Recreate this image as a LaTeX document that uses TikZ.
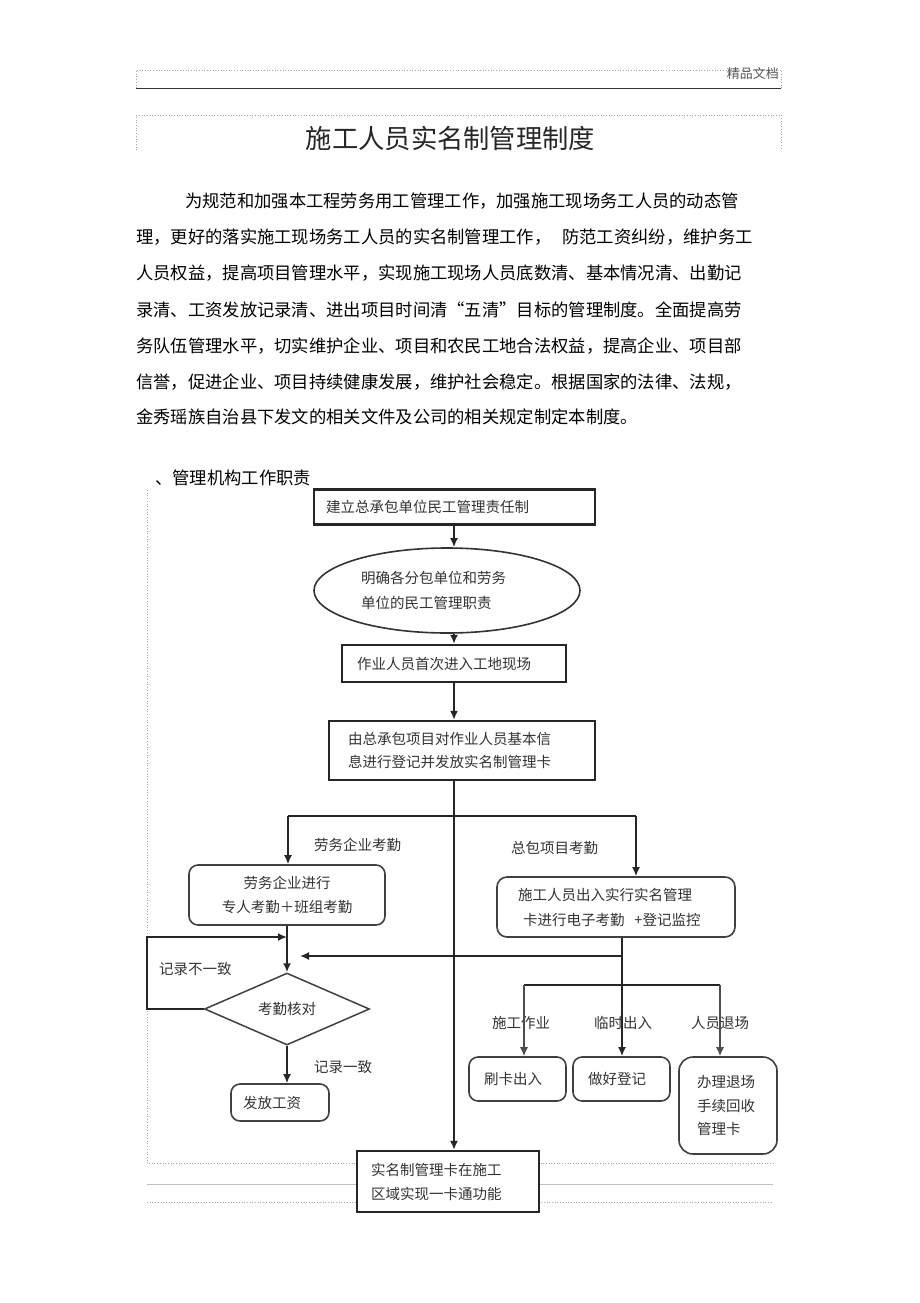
\documentclass[tikz,border=0pt]{standalone}
\usepackage{fontspec}
\setmainfont{Noto Sans CJK SC}
\usetikzlibrary{shapes.geometric,arrows.meta}
\begin{document}
\begin{tikzpicture}[x=1pt,y=-1pt,
  every node/.style={inner sep=0pt},
  ptxt/.style={anchor=west,font=\fontsize{17.3}{20}\selectfont,text=black},
  ftxt/.style={font=\fontsize{14.5}{23.5}\selectfont,text=black!80},
  lbl/.style={ftxt,anchor=west},
  hbox/.style={draw=black!85,line width=2.4pt,ftxt,align=left},
  rbox/.style={draw=black!75,line width=1.6pt,rounded corners=9pt,ftxt,align=left},
  conn/.style={draw=black!85,line width=1.7pt},
  arr/.style={conn,-{Latex[length=9pt,width=8pt]}},
  dots/.style={draw=black!35,dotted,line width=0.7pt},
]
\fill[white] (0,0) rectangle (920,1303);
\useasboundingbox (0,0) rectangle (920,1303);

% header
\draw[dots] (136,88) -- (136,70) -- (781,70) -- (781,88);
\draw[draw=black!80,line width=1.8pt] (136,88.5) -- (781,88.5);
\node[anchor=east,font=\fontsize{13}{15}\selectfont,text=black!65] (hdr) at (779,74) {精品文档};
\draw[dots] (136,150) -- (136,115) -- (781,115) -- (781,150);
\node[font=\fontsize{26.3}{30}\selectfont,text=black!85] (title) at (450.5,138) {施工人员实名制管理制度};

% paragraph
\node[ptxt] (p1) at (185,201) {为规范和加强本工程劳务用工管理工作，加强施工现场务工人员的动态管};
\node[ptxt] (p2) at (136,237) {理，更好的落实施工现场务工人员的实名制管理工作，\hspace{11pt}防范工资纠纷，维护务工};
\node[ptxt] (p3) at (136,273) {人员权益，提高项目管理水平，实现施工现场人员底数清、基本情况清、出勤记};
\node[ptxt] (p4) at (136,310) {录清、工资发放记录清、进出项目时间清“五清”目标的管理制度。全面提高劳};
\node[ptxt] (p5) at (136,346) {务队伍管理水平，切实维护企业、项目和农民工地合法权益，提高企业、项目部};
\node[ptxt] (p6) at (136,382) {信誉，促进企业、项目持续健康发展，维护社会稳定。根据国家的法律、法规，};
\node[ptxt] (p7) at (136,417) {金秀瑶族自治县下发文的相关文件及公司的相关规定制定本制度。};
\node[ptxt] (sec) at (155,478) {、管理机构工作职责};

% frame lines
\draw[dots] (147,490) -- (147,1163) -- (773,1163);
\draw[black!25,line width=0.6pt] (147,1184) -- (773,1184);
\draw[dots] (147,1202) -- (773,1202);

% nodes
\node[hbox,text width=257pt,inner xsep=12pt,minimum height=35pt] (b1) at (454.5,507) {建立总承包单位民工管理责任制};
\node[draw=black!80,line width=1.6pt,ellipse,minimum width=266pt,minimum height=85pt,text width=172pt,align=left,font=\fontsize{14.5}{25}\selectfont,text=black!80] (el) at (447,590.5) {明确各分包单位和劳务\\单位的民工管理职责};
\node[hbox,text width=194pt,inner xsep=15pt,minimum height=37pt] (b3) at (454,663.5) {作业人员首次进入工地现场};
\node[hbox,text width=228pt,inner xsep=19pt,minimum height=59pt] (b4) at (462,750.5) {由总承包项目对作业人员基本信\\息进行登记并发放实名制管理卡};
\node[rbox,align=center,minimum width=196pt,minimum height=60pt,font=\fontsize{14.5}{24}\selectfont] (b5) at (287,895) {劳务企业进行\\专人考勤＋班组考勤};
\node[rbox,rounded corners=10pt,text width=196pt,inner xsep=21pt,minimum height=60pt,font=\fontsize{14.5}{25}\selectfont] (b6) at (616,907) {施工人员出入实行实名管理\\\hspace{5pt}卡进行电子考勤\hspace{10pt}+登记监控};
\node[draw=black!75,line width=1.5pt,diamond,minimum width=165pt,minimum height=72pt,ftxt] (dia) at (287,1009) {考勤核对};
\node[rbox,text width=74pt,inner xsep=12pt,minimum height=37pt] (ffb) at (280,1102.5) {发放工资};
\node[rbox,text width=67pt,inner xsep=15pt,minimum height=44pt] (skb) at (517.5,1079) {刷卡出入};
\node[rbox,text width=67pt,inner xsep=15pt,minimum height=44pt] (djb) at (621.5,1079) {做好登记};
\node[rbox,rounded corners=14pt,text width=62pt,inner xsep=18pt,minimum height=97pt] (tcb) at (728,1105.5) {办理退场\\手续回收\\管理卡};
\node[hbox,fill=white,text width=154pt,inner xsep=14pt,minimum height=61pt,font=\fontsize{14.5}{24}\selectfont] (fin) at (448,1181.5) {实名制管理卡在施工\\区域实现一卡通功能};

% labels
\node[lbl] (l1) at (314,845) {劳务企业考勤};
\node[lbl] (l2) at (511,848) {总包项目考勤};
\node[lbl] (l3) at (159,969) {记录不一致};
\node[lbl] (l4) at (314,1067) {记录一致};
\node[lbl] (l5) at (492,1023) {施工作业};
\node[lbl] (l6) at (594,1023) {临时出入};
\node[lbl] (l7) at (691,1023) {人员退场};

% coordinates
\coordinate (mx) at (454,0);
\coordinate (brL) at (288,816);
\coordinate (brR) at (636,816);
\coordinate (lpx) at (147,0);
\coordinate (loopT) at (287,937);
\coordinate (crR) at (622,956);
\coordinate (crL) at (300,956);
\coordinate (v6) at (622,0);
\coordinate (hL) at (524,985);
\coordinate (hR) at (720,985);

% connectors
\draw[arr] (b1.south -| mx) -- (el.north -| mx);
\draw[arr] (el.south -| mx) -- (b3.north -| mx);
\draw[arr] (b3.south -| mx) -- (b4.north -| mx);
\draw[arr] (b4.south -| mx) -- (fin.north -| mx);
\draw[conn] (brL) -- (brR);
\draw[arr] (brL) -- (brL |- b5.north);
\draw[arr] (brR) -- (brR |- b6.north);
\draw[arr] (dia.north |- b5.south) -- (dia.north);
\draw[arr] (dia.west) -- (dia.west -| lpx) |- (loopT);
\draw[arr] (crR) -- (crL);
\draw[arr] (b6.south -| v6) -- (djb.north -| v6);
\draw[conn] (hL) -- (hR);
\draw[arr,draw=black!70,line width=1.4pt] (hL) -- (hL |- skb.north);
\draw[arr,draw=black!70,line width=1.4pt] (hR) -- (hR |- tcb.north);
\draw[arr] (dia.south) -- (dia.south |- ffb.north);
\end{tikzpicture}
\end{document}
